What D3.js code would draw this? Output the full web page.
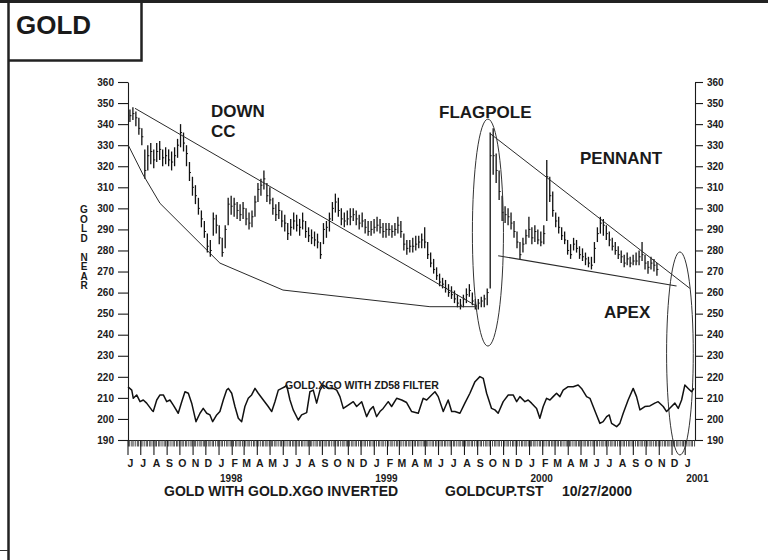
<!DOCTYPE html>
<html><head><meta charset="utf-8">
<script src="https://cdn.jsdelivr.net/npm/d3@7"></script>
<style>
body{margin:0;background:#fff;}
svg{display:block;font-family:"Liberation Sans",Arial,Helvetica,sans-serif;}
</style>
</head><body>
<svg id="c" width="768" height="560"></svg>
<script>
// ---------------- DATA ----------------
const firstWeek = "1997-06-02"; // weekly bars start (Mondays)
const weeklyLow = [
 341,342,339,335,330, 314,318,321,319, 322,323,320,321, 320,318,320,324,329, 327,320,313,306, 302,297,291,286, 279,277,287,288,283,
 277,281,292,297, 296,295,294,295, 292,290,291,296,303, 306,309,303,302, 297,294,295,291, 289,285,287,290,289, 287,290,286,284,
 283,282,281,276, 283,286,289,294,298, 296,292,291,292, 292,294,292,290,291, 288,287,287,288,
 289,288,286,286, 287,286,287,288, 286,280,278,279,279, 280,281,281,281, 276,272,269,266,263, 262,260,258,257, 255,253,252,253,
 255,258,254,252,252, 253,253,254,262, 316,312,304,294, 293,292,290,286,281, 276,279,283,286,
 283,284,283,282,283, 294,303,296,291, 288,285,283,278, 276,280,279,276, 275,273,272,271,274, 284,288,287,285, 282,280,278,276,274,
 272,273,272,273, 273,273,275,271, 269,271,270,268];
const weeklyHigh = [
 347,348,346,343,338, 328,330,331,328, 331,332,328,329, 328,327,329,333,340, 336,330,322,315, 311,305,299,294, 288,285,298,297,292,
 286,292,305,306, 305,303,302,303, 300,298,299,306,312, 314,318,312,310, 305,302,303,299, 297,293,295,298,297, 295,298,294,291,
 290,289,288,284, 293,294,298,303,307, 305,300,298,299, 300,300,299,297,298, 295,294,294,295,
 296,295,293,293, 293,292,293,296, 294,288,285,285,286, 287,287,288,291, 284,279,276,272,269, 267,266,264,263, 261,259,257,259,
 262,264,260,257,257, 258,259,262,336, 338,326,318,306, 301,300,298,294,289, 284,286,290,296,
 291,292,290,289,292, 323,315,308,298, 296,291,289,285, 283,286,285,282, 281,279,277,277,284, 291,296,295,292, 289,286,284,282,280,
 278,279,277,278, 279,280,284,278, 275,277,276,274];
const weeklyClose = [
 344,345,343,338,334, 318,325,327,323, 327,328,324,325, 323,322,325,330,336, 331,326,317,310, 306,300,295,289, 282,280,295,292,286,
 279,290,302,301, 302,299,297,300, 295,293,296,303,309, 311,314,306,304, 300,297,299,294, 293,288,291,294,292, 291,294,289,287,
 286,285,284,278, 290,291,295,300,303, 299,295,294,295, 296,297,295,293,294, 291,289,290,291,
 292,291,289,290, 290,289,290,292, 289,283,281,282,282, 283,284,285,284, 278,274,271,268,265, 264,262,260,259, 257,255,254,257,
 259,261,256,254,255, 256,257,260,325, 325,318,308,298, 297,296,293,289,284, 278,283,287,290,
 286,289,285,284,288, 315,306,299,294, 291,287,285,280, 278,283,281,278, 277,276,274,273,281, 288,293,292,288, 285,282,280,278,277,
 274,276,274,275, 275,277,278,274, 272,274,273,271];

// oscillator (GOLD.XGO with ZD58 filter): months since 1 Jun 1997, value
const oscMonths = [
 0,0.29,0.41,0.67,0.93,1.18,1.44,1.83,1.95,2.22, 2.47,2.73,2.99,3.24,3.50,3.88,4.15,4.40,4.66,4.92,
 5.25,5.56,5.81,6.08,6.33,6.54,6.85,7.10,7.36,7.62, 7.75,8.01,8.26,8.52,8.78,9.03,9.29,9.55,9.81,10.06,
 10.45,10.83,11.10,11.35,11.61,11.87,12.12,12.25,12.51,12.76, 13.15,13.41,13.80,14.05,14.31,14.57,14.83,15.08,15.47,15.85,
 16.12,16.37,16.63,17.01,17.40,17.66,18.05,18.43,18.69,18.94, 19.20,19.46,19.71,20.10,20.36,20.75,21.14,21.52,21.91,22.42,
 22.80,23.07,23.45,23.71,23.96,24.35,24.73,25.00,25.25,25.64, 26.02,26.41,26.80,27.18,27.44,27.70,28.08,28.34,28.59,28.98,
 29.37,29.75,30.02,30.27,30.66,30.91,31.17,31.56,31.81,32.07, 32.33,32.59,32.84,33.10,33.36,33.61,34.00,34.39,34.77,35.03,
 35.42,35.68,35.93,36.19,36.45,36.70,36.97,37.17,37.35,37.74, 37.99,38.25,38.63,39.02,39.28,39.54,39.92,40.31,40.69,40.95,
 41.34,41.60,41.98,42.24,42.50,42.76,43.01,43.27,43.53,43.71];
const oscValues = [
 215.3,213.7,209.8,211.4,208.2,209,207.5,204.3,203.5,209, 211.4,211.4,208.2,209,206.6,202.7,208.2,212.9,212.2,207.5,
 198.7,202.7,205,202.7,201.9,198.7,201.9,203.5,209,213.7, 214.5,212.2,205.9,200.3,198.7,205.9,209.8,211.4,214.5,212.2,
 209,205.9,203.5,208.2,213.7,214.5,215.3,216.1,209,204.3, 199.5,201.9,203,212.9,213.7,207.5,213.7,216.1,214.5,214.5,
 213.7,210.6,205,206.6,208.2,205.9,208.2,201.1,204.3,205.9, 201.1,203.5,205,208.2,205.9,209.8,209,207.8,203.5,202.7,
 209.8,209,211.4,212.9,210.6,203.5,209,203.5,203.5,202.7, 207.5,212.2,217.7,220.1,219.3,212.2,205,204.3,202.7,208.2,
 211.4,211.4,208.2,210.6,208.2,209,207.5,205,200.3,205.9, 209.8,209,210.6,212.2,210.6,213.7,215.3,215.3,216.1,214.5,
 210.6,209.8,205.9,201.9,197.9,198.7,201.1,201.9,197.9,196.3, 197.9,202.7,209,214.5,210.6,204.3,205.9,206.2,207.5,208.2,
 205.9,203.5,205.9,207.5,205,209,216.1,214.5,212.9,214.5];

// drawn trend lines (months since 1 Jun 1997, price)
const downLineMonths = [0.54, 26.95];
const downLineValues = [347.5, 253.5];
const cupMonths = [0.02, 1.18, 2.47, 7.10, 11.97, 23.32, 26.95];
const cupValues = [330, 315.8, 302.4, 274, 261.2, 253.3, 253.3];
const pennantTopMonths = [27.95, 43.40];
const pennantTopValues = [335.6, 262];
const pennantBotMonths = [28.59, 42.37];
const pennantBotValues = [277.5, 263.1];
// ellipses: centre month, centre price, half-width (months), half-height (price)
const flagEllipse = [27.8, 288.5, 1.2, 53.9];
const apexEllipse = [42.63, 231.1, 1.03, 48.2];

const yTicks = [190,200,210,220,230,240,250,260,270,280,290,300,310,320,330,340,350,360];
const monthLetters = ["J","J","A","S","O","N","D",
 "J","F","M","A","M","J","J","A","S","O","N","D",
 "J","F","M","A","M","J","J","A","S","O","N","D",
 "J","F","M","A","M","J","J","A","S","O","N","D","J"];
const yearLabels = ["1998","1999","2000","2001"];
const yAxisLetters = ["G","O","L","D","","N","E","A","R"];

// ---------------- CHART ----------------
const svg = d3.select("#c");
const base = Date.UTC(1997,5,1);
const DAY = 864e5;
const mDate = m => new Date(base + m*30.4375*DAY);
const x = d3.scaleUtc().domain([new Date(base), new Date(Date.UTC(2001,0,24))]).range([128,695]);
const y = d3.scaleLinear().domain([190,360]).range([440,82]);
const ink = "#1a1a1a";

// frame
svg.append("rect").attr("x",0).attr("y",0).attr("width",768).attr("height",3).attr("fill","#222");
svg.append("line").attr("x1",8.5).attr("x2",8.5).attr("y1",0).attr("y2",560).attr("stroke","#222").attr("stroke-width",2.5);
svg.append("path").attr("d","M8.5,60.5H141.5V0").attr("fill","none").attr("stroke","#222").attr("stroke-width",2.5);
svg.append("line").attr("x1",0).attr("x2",8).attr("y1",550.5).attr("y2",550.5).attr("stroke","#333").attr("stroke-width",1);
svg.append("text").attr("x",16).attr("y",34).attr("font-size",26).attr("font-weight","bold").attr("fill",ink).text("GOLD");

// axes
const axL = svg.append("g").attr("transform","translate(128,0)")
  .call(d3.axisLeft(y).tickValues(yTicks).tickSize(10).tickSizeOuter(0).tickPadding(4));
const axR = svg.append("g").attr("transform","translate(695,0)")
  .call(d3.axisRight(y).tickValues(yTicks).tickSize(8).tickSizeOuter(0).tickPadding(4));
[axL,axR].forEach(g=>{
  g.selectAll("path,line").attr("stroke",ink).attr("stroke-width",1.1);
  g.selectAll("text").attr("font-size",10).attr("font-weight","bold").attr("fill",ink).attr("font-family","Liberation Sans, Arial, sans-serif");
});

// x axis baseline
svg.append("line").attr("x1",128).attr("x2",695).attr("y1",440.5).attr("y2",440.5).attr("stroke",ink).attr("stroke-width",1.2);
// minor comb ticks (every 3rd weekday)
const days = d3.utcDay.range(new Date(base), new Date(Date.UTC(2001,0,24))).filter(d=>d.getUTCDay()>0 && d.getUTCDay()<6).filter((d,i)=>i%3===0);
svg.append("g").selectAll("line").data(days).join("line")
  .attr("x1",d=>x(d)).attr("x2",d=>x(d)).attr("y1",440).attr("y2",446.5)
  .attr("stroke","#333").attr("stroke-width",0.9);
// month ticks
const months = d3.utcMonth.range(new Date(base), new Date(Date.UTC(2001,0,2)));
svg.append("g").selectAll("line").data(months).join("line")
  .attr("x1",d=>x(d)).attr("x2",d=>x(d)).attr("y1",440).attr("y2",455)
  .attr("stroke",ink).attr("stroke-width",1.1);
svg.append("g").selectAll("text").data(months).join("text")
  .attr("x",d=>x(d)+2.5).attr("y",467).attr("text-anchor","middle")
  .attr("font-size",10.5).attr("font-weight","bold").attr("fill",ink)
  .text((d,i)=>monthLetters[i]);
const yearStarts = months.filter(d=>d.getUTCMonth()===0);
svg.append("g").selectAll("text").data(yearStarts).join("text")
  .attr("x",d=>x(d)+1).attr("y",482).attr("font-size",10).attr("font-weight","bold").attr("fill",ink)
  .text((d,i)=>yearLabels[i]);

// y-axis title (stacked letters)
svg.append("g").selectAll("text").data(yAxisLetters).join("text")
  .attr("x",84).attr("y",(d,i)=>213+i*9.5).attr("text-anchor","middle")
  .attr("font-size",10).attr("font-weight","bold").attr("fill",ink).text(d=>d);

// price bars
const start = new Date(firstWeek+"T00:00:00Z");
const bars = weeklyHigh.map((h,i)=>({d:new Date(start.getTime()+i*7*DAY), h, l:weeklyLow[i], c:weeklyClose[i]}));
const gb = svg.append("g");
gb.selectAll("line.bar").data(bars).join("line").attr("class","bar")
  .attr("x1",d=>x(d.d)+1.5).attr("x2",d=>x(d.d)+1.5)
  .attr("y1",d=>y(d.h)).attr("y2",d=>y(d.l))
  .attr("stroke","#111").attr("stroke-width",1.3);
gb.selectAll("line.cl").data(bars).join("line").attr("class","cl")
  .attr("x1",d=>x(d.d)+1.5).attr("x2",d=>x(d.d)+3)
  .attr("y1",d=>y(d.c)).attr("y2",d=>y(d.c))
  .attr("stroke","#111").attr("stroke-width",1);

// trend lines
const ln = d3.line().x(p=>x(mDate(p[0]))).y(p=>y(p[1]));
function drawLine(ms,vs,w){
  svg.append("path").attr("d",ln(ms.map((m,i)=>[m,vs[i]])))
    .attr("fill","none").attr("stroke","#2a2a2a").attr("stroke-width",w);
}
drawLine(downLineMonths,downLineValues,1);
drawLine(cupMonths,cupValues,1);
drawLine(pennantTopMonths,pennantTopValues,1);
drawLine(pennantBotMonths,pennantBotValues,1.1);

// ellipses
function drawEllipse(e){
  const cx = x(mDate(e[0])), cy = y(e[1]);
  svg.append("ellipse").attr("cx",cx).attr("cy",cy)
    .attr("rx",x(mDate(e[0]+e[2]))-cx).attr("ry",y(e[1]-e[3])-cy)
    .attr("fill","none").attr("stroke","#333").attr("stroke-width",1);
}
drawEllipse(flagEllipse);
drawEllipse(apexEllipse);

// oscillator
svg.append("path").attr("d",ln(oscMonths.map((m,i)=>[m,oscValues[i]])))
  .attr("fill","none").attr("stroke","#111").attr("stroke-width",1.5).attr("stroke-linejoin","round");

// annotations
const ann = [["DOWN",211,117],["CC",211,137],["FLAGPOLE",439,118],["PENNANT",580,164],["APEX",604,318]];
svg.append("g").selectAll("text").data(ann).join("text")
  .attr("x",d=>d[1]).attr("y",d=>d[2]).attr("font-size",17).attr("font-weight","bold").attr("fill",ink).text(d=>d[0]);
svg.append("text").attr("x",285).attr("y",388.5).attr("font-size",10.5).attr("font-weight","bold").attr("fill",ink)
  .text("GOLD.XGO WITH ZD58 FILTER");

// caption
const cap = [["GOLD WITH GOLD.XGO INVERTED",164],["GOLDCUP.TST",445],["10/27/2000",562]];
svg.append("g").selectAll("text").data(cap).join("text")
  .attr("x",d=>d[1]).attr("y",496).attr("font-size",14).attr("font-weight","bold").attr("fill",ink).text(d=>d[0]);
</script>
</body></html>
